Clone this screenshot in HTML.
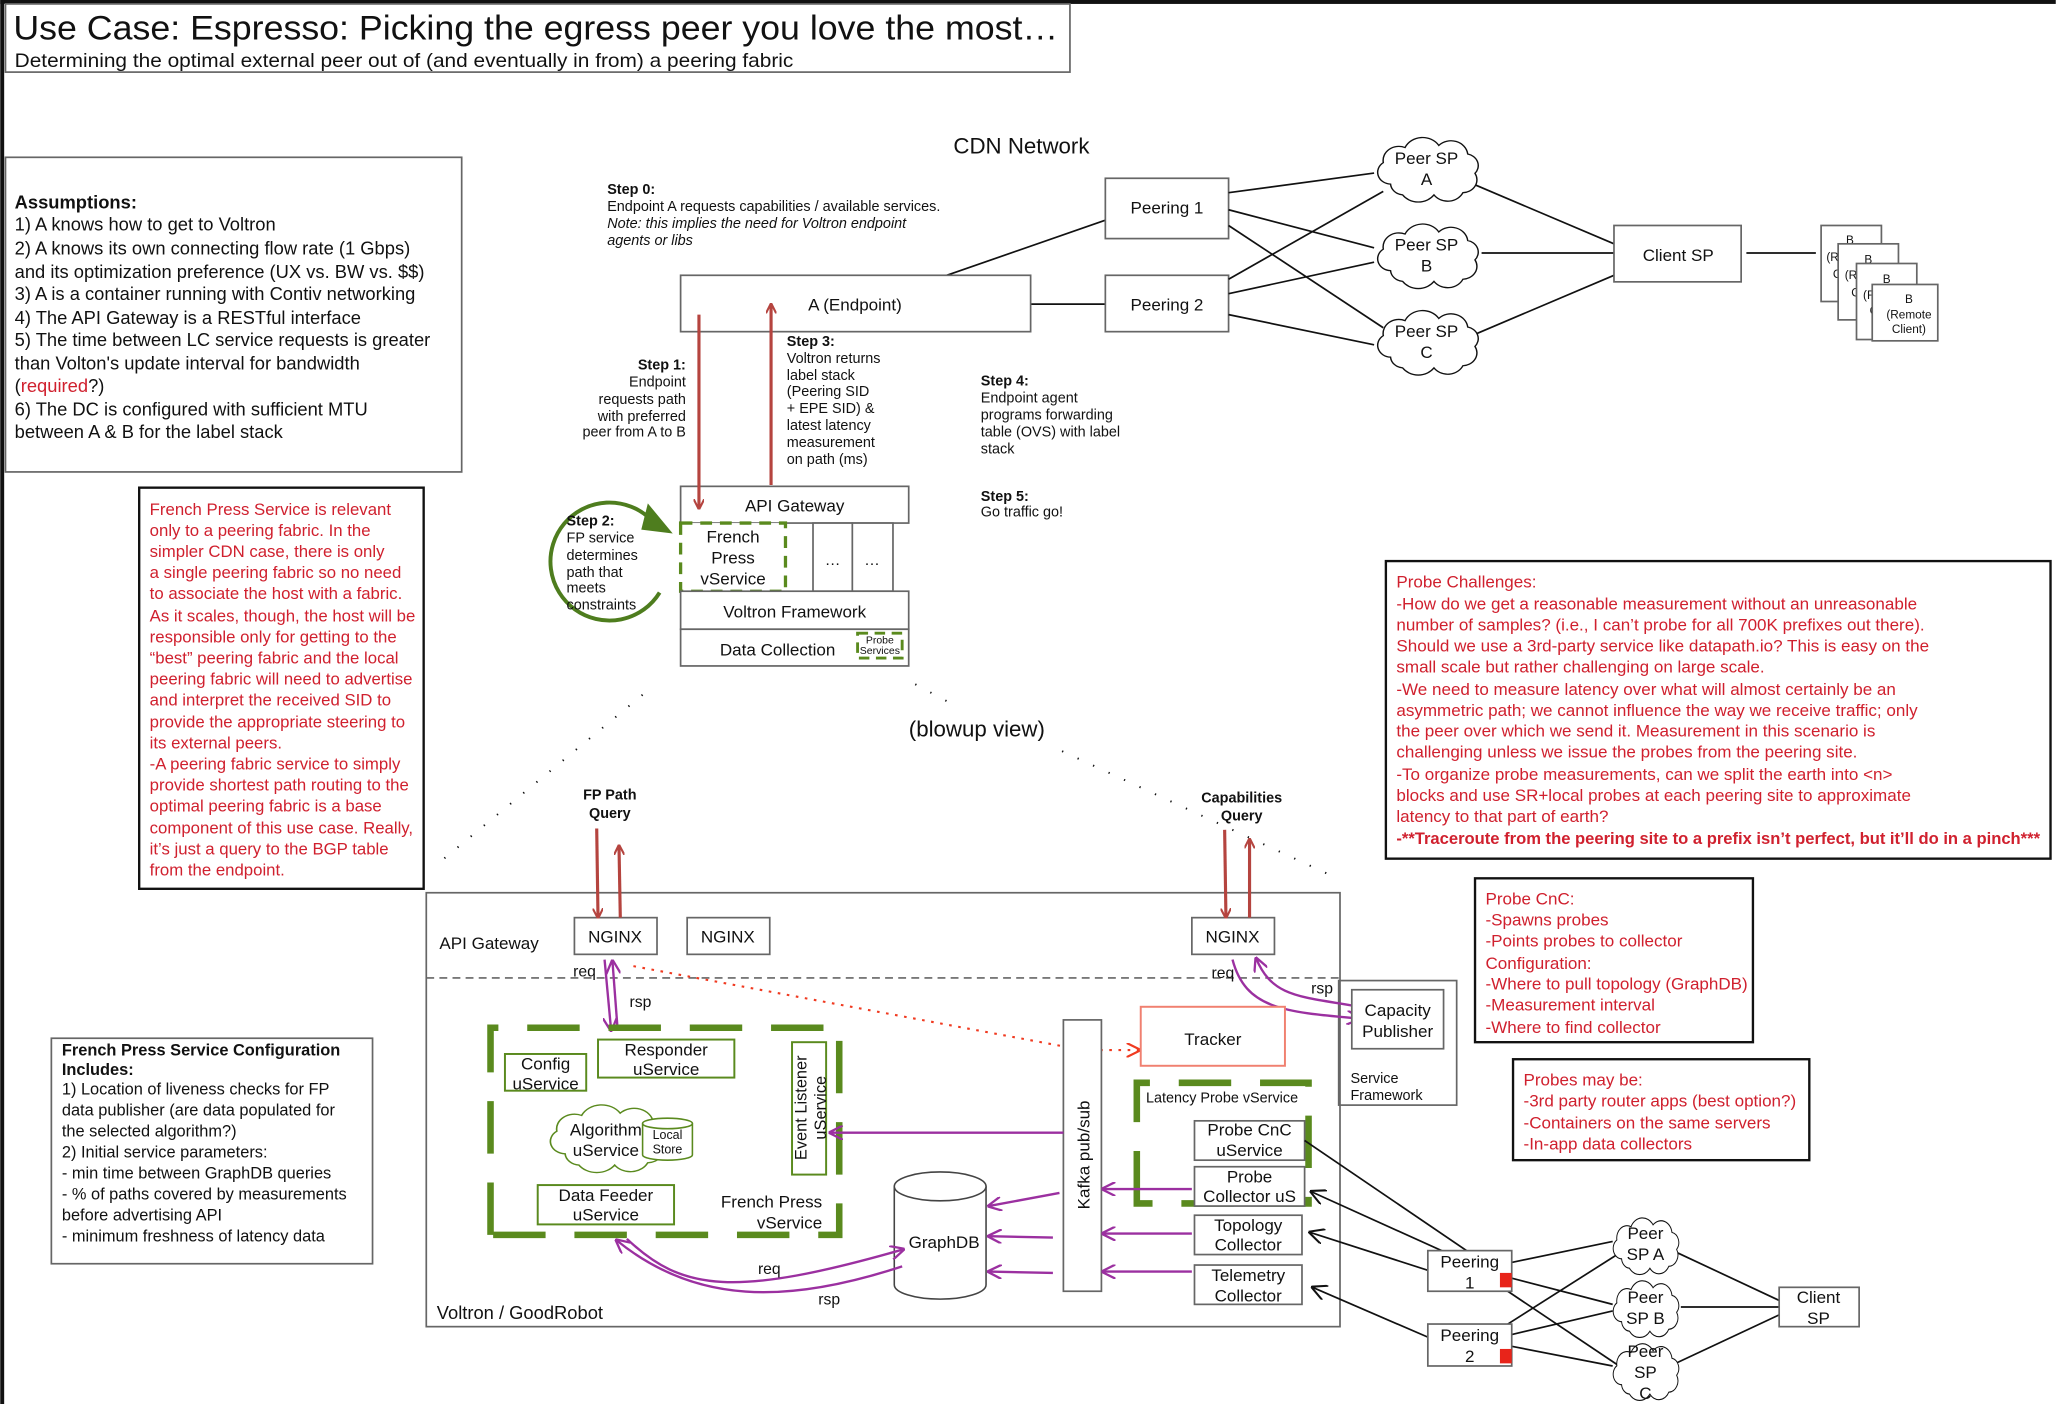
<!DOCTYPE html>
<html><head><meta charset="utf-8">
<style>
html,body{margin:0;padding:0;background:#fff;}
svg{display:block;}
text{font-family:"Liberation Sans",sans-serif;fill:#111;}
.r{fill:#d0202e;}
.b{font-weight:bold;}
.box{fill:#fff;stroke:#666;stroke-width:1.3;}
.blk{fill:#fff;stroke:#111;stroke-width:1.8;}
.ln{stroke:#111;stroke-width:1.3;fill:none;}
.pu{stroke:#9b30a0;stroke-width:1.8;fill:none;}
.rd{stroke:#b5443f;stroke-width:2.4;fill:none;}
.gd{fill:none;stroke:#5a8a1e;stroke-width:5;stroke-dasharray:40 22;}
.gb{fill:#fff;stroke:#5a8a1e;stroke-width:1.5;}
.dot{stroke:#111;stroke-width:1.5;stroke-dasharray:1 12;fill:none;}
</style></head><body>
<svg width="2056" height="1404" viewBox="0 0 1568 1071" xmlns="http://www.w3.org/2000/svg">
<defs>
<path id="cloud" d="M18,42 a11,11 0 0,1 -6,-20 a13,13 0 0,1 18,-14 a16,16 0 0,1 28,-2 a14,14 0 0,1 24,8 a11,11 0 0,1 6,18 a12,12 0 0,1 -10,18 a14,14 0 0,1 -24,2 a16,16 0 0,1 -26,0 a11,11 0 0,1 -10,-10 z"/>
<marker id="ar" viewBox="0 0 10 10" refX="9" refY="5" markerWidth="8" markerHeight="8" orient="auto-start-reverse" markerUnits="userSpaceOnUse"><path d="M0,0 L10,5 L0,10" fill="none" stroke="#b5443f" stroke-width="2"/></marker>
<marker id="ap" viewBox="0 0 10 10" refX="9" refY="5" markerWidth="11" markerHeight="11" orient="auto" markerUnits="userSpaceOnUse"><path d="M0,0 L10,5 L0,10" fill="none" stroke="#9b30a0" stroke-width="1.6"/></marker>
<marker id="ak" viewBox="0 0 10 10" refX="9" refY="5" markerWidth="12" markerHeight="12" orient="auto" markerUnits="userSpaceOnUse"><path d="M0,0 L10,5 L0,10" fill="none" stroke="#111" stroke-width="1.3"/></marker>
<marker id="ao" viewBox="0 0 10 10" refX="9" refY="5" markerWidth="11" markerHeight="11" orient="auto" markerUnits="userSpaceOnUse"><path d="M0,0 L10,5 L0,10" fill="none" stroke="#f03a20" stroke-width="1.5"/></marker>
</defs>

<rect x="0" y="0" width="1568" height="3" fill="#111"/>
<rect x="0" y="0" width="3" height="1071" fill="#111"/>

<rect x="4" y="3" width="812" height="52" class="box" stroke="#555"/>
<text x="10" y="30" font-size="26" textLength="797" lengthAdjust="spacingAndGlyphs">Use Case:  Espresso: Picking the egress peer you love the most…</text>
<text x="11" y="51" font-size="15" textLength="594" lengthAdjust="spacingAndGlyphs">Determining the optimal external peer out of (and eventually in from) a peering fabric</text>

<rect x="4" y="120" width="348" height="240" class="box" stroke="#333"/>
<g font-size="14">
<text x="11" y="159" class="b">Assumptions:</text>
<text x="11" y="176">1) A knows how to get to Voltron</text>
<text x="11" y="194">2) A knows its own connecting flow rate (1 Gbps)</text>
<text x="11" y="212">and its optimization preference (UX vs. BW vs. $$)</text>
<text x="11" y="229">3) A is a container running with Contiv networking</text>
<text x="11" y="247">4) The API Gateway is a RESTful interface</text>
<text x="11" y="264">5) The time between LC service requests is greater</text>
<text x="11" y="282">than Volton's update interval for bandwidth</text>
<text x="11" y="299">(<tspan class="r">required</tspan>?)</text>
<text x="11" y="317">6) The DC is configured with sufficient MTU</text>
<text x="11" y="334">between A &amp; B for the label stack</text>
</g>

<rect x="106" y="372" width="217" height="306" class="blk"/>
<g font-size="12.8" class="r">
<text x="114" y="393" class="r">French Press Service is relevant</text>
<text x="114" y="409" class="r">only to a peering fabric.  In the</text>
<text x="114" y="425" class="r">simpler CDN case, there is only</text>
<text x="114" y="441" class="r">a single peering fabric so no need</text>
<text x="114" y="457" class="r">to associate the host with a fabric.</text>
<text x="114" y="474" class="r">As it scales, though, the host will be</text>
<text x="114" y="490" class="r">responsible only for getting to the</text>
<text x="114" y="506" class="r">“best” peering fabric and the local</text>
<text x="114" y="522" class="r">peering fabric will need to advertise</text>
<text x="114" y="538" class="r">and interpret the received SID to</text>
<text x="114" y="555" class="r">provide the appropriate steering to</text>
<text x="114" y="571" class="r">its external peers.</text>
<text x="114" y="587" class="r">-A peering fabric service to simply</text>
<text x="114" y="603" class="r">provide shortest path routing to the</text>
<text x="114" y="619" class="r">optimal peering fabric is a base</text>
<text x="114" y="636" class="r">component of this use case. Really,</text>
<text x="114" y="652" class="r">it’s just a query to the BGP table</text>
<text x="114" y="668" class="r">from the endpoint.</text>
</g>

<rect x="39" y="792" width="245" height="172" class="box" stroke="#444"/>
<g font-size="12.5">
<text x="47" y="805" class="b">French Press Service Configuration</text>
<text x="47" y="820" class="b">Includes:</text>
<text x="47" y="835">1) Location of liveness checks for FP</text>
<text x="47" y="851">data publisher (are data populated for</text>
<text x="47" y="867">the selected algorithm?)</text>
<text x="47" y="883">2) Initial service parameters:</text>
<text x="47" y="899">- min time between GraphDB queries</text>
<text x="47" y="915">- % of paths covered by measurements</text>
<text x="47" y="931">before advertising API</text>
<text x="47" y="947">- minimum freshness of latency data</text>
</g>

<text x="779" y="117" font-size="17" text-anchor="middle">CDN Network</text>
<g font-size="11">
<text x="463" y="148" class="b">Step 0:</text>
<text x="463" y="161">Endpoint A requests capabilities / available services.</text>
<text x="463" y="174" font-style="italic">Note: this implies the need for Voltron endpoint</text>
<text x="463" y="187" font-style="italic">agents or libs</text>
</g>
<line x1="722" y1="210" x2="843" y2="168" class="ln"/>
<line x1="786" y1="232" x2="843" y2="232" class="ln"/>
<rect x="519" y="210" width="267" height="43" class="box"/>
<text x="652" y="237" font-size="13" text-anchor="middle">A (Endpoint)</text>
<rect x="843" y="136" width="94" height="46" class="box"/>
<text x="890" y="163" font-size="13" text-anchor="middle">Peering 1</text>
<rect x="843" y="210" width="94" height="43" class="box"/>
<text x="890" y="237" font-size="13" text-anchor="middle">Peering 2</text>
<g class="ln">
<line x1="937" y1="147" x2="1048" y2="132"/>
<line x1="937" y1="160" x2="1048" y2="189"/>
<line x1="937" y1="172" x2="1055" y2="250"/>
<line x1="937" y1="213" x2="1055" y2="146"/>
<line x1="937" y1="224" x2="1048" y2="200"/>
<line x1="937" y1="240" x2="1048" y2="263"/>
<line x1="1125" y1="141" x2="1231" y2="186"/>
<line x1="1130" y1="193" x2="1231" y2="193"/>
<line x1="1125" y1="255" x2="1231" y2="210"/>
<line x1="1332" y1="193" x2="1385" y2="193"/>
</g>
<g fill="#fff" stroke="#111" stroke-width="1.2">
<use href="#cloud" transform="translate(1044,106) scale(0.92,0.82)"/>
<use href="#cloud" transform="translate(1044,172) scale(0.92,0.82)"/>
<use href="#cloud" transform="translate(1044,238) scale(0.92,0.82)"/>
</g>
<g font-size="13" text-anchor="middle">
<text x="1088" y="125">Peer SP</text><text x="1088" y="141">A</text>
<text x="1088" y="191">Peer SP</text><text x="1088" y="207">B</text>
<text x="1088" y="257">Peer SP</text><text x="1088" y="273">C</text>
</g>
<rect x="1231" y="172" width="97" height="43" class="box"/>
<text x="1280" y="199" font-size="13" text-anchor="middle">Client SP</text>
<g font-size="9">
<rect x="1389" y="172" width="46" height="58" class="box"/><text x="1408" y="186">B</text><text x="1393" y="199">(R</text><text x="1398" y="212">C</text>
<rect x="1402" y="186" width="46" height="58" class="box"/><text x="1422" y="201">B</text><text x="1407" y="213">(R</text><text x="1412" y="226">C</text>
<rect x="1416" y="201" width="46" height="58" class="box"/><text x="1436" y="216">B</text><text x="1421" y="228">(R</text><text x="1426" y="240">C</text>
<rect x="1428" y="217" width="50" height="43" class="box"/>
<text x="1456" y="231" text-anchor="middle">B</text><text x="1456" y="243" text-anchor="middle">(Remote</text><text x="1456" y="254" text-anchor="middle">Client)</text>
</g>

<g font-size="11">
<text x="523" y="282" text-anchor="end" class="b">Step 1:</text>
<text x="523" y="295" text-anchor="end">Endpoint</text>
<text x="523" y="308" text-anchor="end">requests path</text>
<text x="523" y="321" text-anchor="end">with preferred</text>
<text x="523" y="333" text-anchor="end">peer from A to B</text>
<text x="600" y="264" class="b">Step 3:</text>
<text x="600" y="277">Voltron returns</text>
<text x="600" y="290">label stack</text>
<text x="600" y="302">(Peering SID</text>
<text x="600" y="315">+ EPE SID) &amp;</text>
<text x="600" y="328">latest latency</text>
<text x="600" y="341">measurement</text>
<text x="600" y="354">on path (ms)</text>
<text x="748" y="294" class="b">Step 4:</text>
<text x="748" y="307">Endpoint agent</text>
<text x="748" y="320">programs forwarding</text>
<text x="748" y="333">table (OVS) with label</text>
<text x="748" y="346">stack</text>
<text x="748" y="382" class="b">Step 5:</text>
<text x="748" y="394">Go traffic go!</text>
</g>

<rect x="519" y="371" width="174" height="28" class="box"/>
<text x="606" y="390" font-size="13" text-anchor="middle">API Gateway</text>
<rect x="620" y="399" width="30" height="52" class="box"/>
<rect x="650" y="399" width="31" height="52" class="box"/>
<text x="635" y="431" font-size="12" text-anchor="middle">…</text>
<text x="665" y="431" font-size="12" text-anchor="middle">…</text>
<rect x="519" y="399" width="80" height="52" fill="#fff" stroke="#5a8a1e" stroke-width="2.5" stroke-dasharray="9 6"/>
<g font-size="13" text-anchor="middle">
<text x="559" y="414">French</text><text x="559" y="430">Press</text><text x="559" y="446">vService</text>
</g>
<rect x="519" y="451" width="174" height="29" class="box"/>
<text x="606" y="471" font-size="13" text-anchor="middle">Voltron Framework</text>
<rect x="519" y="480" width="174" height="28" class="box"/>
<text x="593" y="500" font-size="13" text-anchor="middle">Data Collection</text>
<rect x="654" y="483" width="34" height="19" fill="none" stroke="#5a8a1e" stroke-width="2.2" stroke-dasharray="8 5"/>
<text x="671" y="491" font-size="8" text-anchor="middle">Probe</text>
<text x="671" y="499" font-size="8" text-anchor="middle">Services</text>

<line x1="533" y1="240" x2="533" y2="388" class="rd" marker-end="url(#ar)"/>
<line x1="588" y1="370" x2="588" y2="232" class="rd" marker-end="url(#ar)"/>

<path d="M503,452 A45,45 0 1,1 496,396" fill="none" stroke="#4e7d1e" stroke-width="3"/>
<path d="M494,384 L513,407 L489,404 z" fill="#4e7d1e"/>
<g font-size="11">
<text x="432" y="401" class="b">Step 2:</text>
<text x="432" y="414">FP service</text>
<text x="432" y="427">determines</text>
<text x="432" y="440">path that</text>
<text x="432" y="452">meets</text>
<text x="432" y="465">constraints</text>
</g>

<line x1="490" y1="530" x2="330" y2="662" class="dot"/>
<line x1="698" y1="522" x2="728" y2="538" class="dot"/>
<line x1="810" y1="573" x2="1020" y2="670" class="dot"/>
<text x="745" y="562" font-size="17" text-anchor="middle">(blowup view)</text>

<g font-size="11" class="b" text-anchor="middle">
<text x="465" y="610">FP Path</text><text x="465" y="624">Query</text>
<text x="947" y="612">Capabilities</text><text x="947" y="626">Query</text>
</g>

<rect x="1057" y="428" width="507" height="227" class="blk"/>
<g font-size="13">
<text x="1065" y="448" class="r">Probe Challenges:</text>
<text x="1065" y="465" class="r">-How do we get a reasonable measurement without an unreasonable</text>
<text x="1065" y="481" class="r">number of samples? (i.e., I can’t probe for all 700K prefixes out there).</text>
<text x="1065" y="497" class="r">Should we use a 3rd-party service like datapath.io? This is easy on the</text>
<text x="1065" y="513" class="r">small scale but rather challenging on large scale.</text>
<text x="1065" y="530" class="r">-We need to measure latency over what will almost certainly be an</text>
<text x="1065" y="546" class="r">asymmetric path; we cannot influence the way we receive traffic; only</text>
<text x="1065" y="562" class="r">the peer over which we send it. Measurement in this scenario is</text>
<text x="1065" y="578" class="r">challenging unless we issue the probes from the peering site.</text>
<text x="1065" y="595" class="r">-To organize probe measurements, can we split the earth into &lt;n&gt;</text>
<text x="1065" y="611" class="r">blocks and use SR+local probes at each peering site to approximate</text>
<text x="1065" y="627" class="r">latency to that part of earth?</text>
<text x="1065" y="644" class="r b" textLength="491" lengthAdjust="spacingAndGlyphs">-**Traceroute from the peering site to a prefix isn’t perfect, but it’ll do in a pinch***</text>
</g>
<rect x="1125" y="670" width="212" height="125" class="blk"/>
<g font-size="13">
<text x="1133" y="690" class="r">Probe CnC:</text>
<text x="1133" y="706" class="r">-Spawns probes</text>
<text x="1133" y="722" class="r">-Points probes to collector</text>
<text x="1133" y="739" class="r">Configuration:</text>
<text x="1133" y="755" class="r">-Where to pull topology (GraphDB)</text>
<text x="1133" y="771" class="r">-Measurement interval</text>
<text x="1133" y="788" class="r">-Where to find collector</text>
</g>
<rect x="1154" y="808" width="226" height="77" class="blk"/>
<g font-size="13">
<text x="1162" y="828" class="r">Probes may be:</text>
<text x="1162" y="844" class="r">-3rd party router apps (best option?)</text>
<text x="1162" y="861" class="r">-Containers on the same servers</text>
<text x="1162" y="877" class="r">-In-app data collectors</text>
</g>

<rect x="1021" y="748" width="90" height="95" class="box"/>
<text x="1030" y="826" font-size="11">Service</text>
<text x="1030" y="839" font-size="11">Framework</text>
<rect x="325" y="681" width="697" height="331" style="fill:none;stroke:#666;stroke-width:1.3"/>
<line x1="325" y1="746" x2="1022" y2="746" stroke="#666" stroke-width="1.3" stroke-dasharray="6 4"/>
<text x="335" y="724" font-size="13">API Gateway</text>
<text x="333" y="1006" font-size="14">Voltron / GoodRobot</text>

<rect x="438" y="700" width="63" height="28" class="box"/><text x="469" y="719" font-size="13" text-anchor="middle">NGINX</text>
<rect x="524" y="700" width="63" height="28" class="box"/><text x="555" y="719" font-size="13" text-anchor="middle">NGINX</text>
<rect x="909" y="700" width="63" height="28" class="box"/><text x="940" y="719" font-size="13" text-anchor="middle">NGINX</text>

<line x1="455" y1="632" x2="456" y2="700" class="rd" marker-end="url(#ar)"/>
<line x1="473" y1="700" x2="472" y2="645" class="rd" marker-end="url(#ar)"/>
<line x1="934" y1="633" x2="935" y2="700" class="rd" marker-end="url(#ar)"/>
<line x1="953" y1="700" x2="953" y2="640" class="rd" marker-end="url(#ar)"/>

<text x="437" y="745" font-size="12">req</text>
<text x="480" y="768" font-size="12">rsp</text>
<text x="924" y="746" font-size="12">req</text>
<text x="1000" y="758" font-size="12">rsp</text>
<line x1="461" y1="732" x2="466" y2="786" class="pu" marker-end="url(#ap)"/>
<line x1="471" y1="786" x2="467" y2="733" class="pu" marker-end="url(#ap)"/>
<path d="M940,732 C950,770 980,772 1037,777" class="pu" marker-end="url(#ap)"/>
<path d="M1031,767 C990,760 970,760 958,731" class="pu" marker-end="url(#ap)"/>
<rect x="1031" y="755" width="70" height="45" class="box"/>
<text x="1066" y="775" font-size="13" text-anchor="middle">Capacity</text>
<text x="1066" y="791" font-size="13" text-anchor="middle">Publisher</text>

<polyline points="483,737 826,801" fill="none" stroke="#f03a20" stroke-width="1.6" stroke-dasharray="2 5" marker-end="url(#ao)"/>
<line x1="832" y1="801" x2="869" y2="801" stroke="#f03a20" stroke-width="1.6" stroke-dasharray="2 5" marker-end="url(#ao)"/>
<rect x="870" y="768" width="110" height="45" fill="#fff" stroke="#f08070" stroke-width="1.5"/>
<text x="925" y="797" font-size="13" text-anchor="middle">Tracker</text>

<path d="M374,942 L374,784 L640,784 L640,942 Z" class="gd"/>
<rect x="385" y="804" width="62" height="28" class="gb"/>
<text x="416" y="816" font-size="13" text-anchor="middle">Config</text><text x="416" y="831" font-size="13" text-anchor="middle">uService</text>
<rect x="456" y="793" width="104" height="29" class="gb"/>
<text x="508" y="805" font-size="13" text-anchor="middle">Responder</text><text x="508" y="820" font-size="13" text-anchor="middle">uService</text>
<rect x="604" y="795" width="26" height="101" class="gb"/>
<text transform="translate(615,845) rotate(-90)" font-size="12.5" text-anchor="middle">Event Listener</text>
<text transform="translate(630,845) rotate(-90)" font-size="12.5" text-anchor="middle">uService</text>
<use href="#cloud" transform="translate(412,844) scale(1.05,0.86)" fill="#fff" stroke="#5a8a1e" stroke-width="1.2"/>
<text x="462" y="866" font-size="13" text-anchor="middle">Algorithm</text>
<text x="462" y="882" font-size="13" text-anchor="middle">uService</text>
<path d="M490,857 L490,881 A19,4 0 0,0 528,881 L528,857" fill="#fff" stroke="#5a8a1e" stroke-width="1.2"/>
<ellipse cx="509" cy="857" rx="19" ry="4" fill="#fff" stroke="#5a8a1e" stroke-width="1.2"/>
<text x="509" y="869" font-size="9.5" text-anchor="middle">Local</text>
<text x="509" y="880" font-size="9.5" text-anchor="middle">Store</text>
<rect x="410" y="904" width="104" height="30" class="gb"/>
<text x="462" y="916" font-size="13" text-anchor="middle">Data Feeder</text><text x="462" y="931" font-size="13" text-anchor="middle">uService</text>
<text x="627" y="921" font-size="13" text-anchor="end">French Press</text>
<text x="627" y="937" font-size="13" text-anchor="end">vService</text>

<path d="M682,905 L682,980 A35,11 0 0,0 752,980 L752,905" fill="#fff" stroke="#444" stroke-width="1.2"/>
<ellipse cx="717" cy="905" rx="35" ry="11" fill="#fff" stroke="#444" stroke-width="1.2"/>
<text x="720" y="952" font-size="13" text-anchor="middle">GraphDB</text>

<rect x="811" y="778" width="29" height="207" class="box"/>
<text transform="translate(831,881) rotate(-90)" font-size="13" text-anchor="middle">Kafka pub/sub</text>

<path d="M867,918 L867,826 L998,826 L998,918 Z" class="gd" stroke-dasharray="28 18"/>
<text x="932" y="841" font-size="11" text-anchor="middle">Latency Probe vService</text>
<rect x="911" y="855" width="84" height="30" class="box"/>
<text x="953" y="866" font-size="13" text-anchor="middle">Probe CnC</text><text x="953" y="882" font-size="13" text-anchor="middle">uService</text>
<rect x="911" y="890" width="84" height="30" class="box"/>
<text x="953" y="902" font-size="13" text-anchor="middle">Probe</text><text x="953" y="917" font-size="13" text-anchor="middle">Collector uS</text>
<rect x="911" y="927" width="82" height="30" class="box"/>
<text x="952" y="939" font-size="13" text-anchor="middle">Topology</text><text x="952" y="954" font-size="13" text-anchor="middle">Collector</text>
<rect x="911" y="965" width="82" height="30" class="box"/>
<text x="952" y="977" font-size="13" text-anchor="middle">Telemetry</text><text x="952" y="993" font-size="13" text-anchor="middle">Collector</text>

<line x1="811" y1="864" x2="633" y2="864" class="pu" marker-end="url(#ap)"/>
<line x1="909" y1="907" x2="841" y2="907" class="pu" marker-end="url(#ap)"/>
<line x1="909" y1="941" x2="841" y2="941" class="pu" marker-end="url(#ap)"/>
<line x1="909" y1="970" x2="841" y2="970" class="pu" marker-end="url(#ap)"/>
<line x1="808" y1="910" x2="754" y2="920" class="pu" marker-end="url(#ap)"/>
<line x1="803" y1="944" x2="754" y2="943" class="pu" marker-end="url(#ap)"/>
<line x1="803" y1="971" x2="754" y2="970" class="pu" marker-end="url(#ap)"/>
<path d="M478,945 C520,985 560,990 689,953" class="pu" marker-end="url(#ap)"/>
<path d="M688,966 C600,995 530,995 470,946" class="pu" marker-end="url(#ap)"/>
<text x="578" y="972" font-size="12">req</text>
<text x="624" y="995" font-size="12">rsp</text>

<g class="ln">
<line x1="995" y1="870" x2="1145" y2="972" marker-end="url(#ak)"/>
<line x1="1146" y1="975" x2="1000" y2="909" marker-end="url(#ak)"/>
<line x1="1089" y1="969" x2="999" y2="940" marker-end="url(#ak)"/>
<line x1="1089" y1="1020" x2="1001" y2="982" marker-end="url(#ak)"/>
<line x1="1153" y1="963" x2="1230" y2="947"/>
<line x1="1153" y1="975" x2="1230" y2="995"/>
<line x1="1150" y1="985" x2="1235" y2="1042"/>
<line x1="1150" y1="1010" x2="1235" y2="956"/>
<line x1="1153" y1="1018" x2="1230" y2="1000"/>
<line x1="1153" y1="1027" x2="1230" y2="1042"/>
<line x1="1278" y1="955" x2="1357" y2="992"/>
<line x1="1282" y1="997" x2="1357" y2="997"/>
<line x1="1278" y1="1040" x2="1357" y2="1003"/>
</g>
<rect x="1089" y="954" width="64" height="31" class="box"/>
<rect x="1144" y="971" width="9" height="11" fill="#e8241a"/>
<text x="1121" y="967" font-size="13" text-anchor="middle">Peering</text><text x="1121" y="983" font-size="13" text-anchor="middle">1</text>
<rect x="1089" y="1010" width="64" height="32" class="box"/>
<rect x="1144" y="1029" width="9" height="11" fill="#e8241a"/>
<text x="1121" y="1023" font-size="13" text-anchor="middle">Peering</text><text x="1121" y="1039" font-size="13" text-anchor="middle">2</text>
<g fill="#fff" stroke="#111" stroke-width="1.2">
<use href="#cloud" transform="translate(1226,930) scale(0.6,0.72)"/>
<use href="#cloud" transform="translate(1226,978) scale(0.6,0.72)"/>
<use href="#cloud" transform="translate(1226,1026) scale(0.6,0.72)"/>
</g>
<g font-size="13" text-anchor="middle">
<text x="1255" y="945">Peer</text><text x="1255" y="961">SP A</text>
<text x="1255" y="994">Peer</text><text x="1255" y="1010">SP B</text>
<text x="1255" y="1035">Peer</text><text x="1255" y="1051">SP</text><text x="1255" y="1067">C</text>
</g>
<rect x="1357" y="982" width="61" height="30" class="box"/>
<text x="1387" y="994" font-size="13" text-anchor="middle">Client</text><text x="1387" y="1010" font-size="13" text-anchor="middle">SP</text>
</svg>
</body></html>
